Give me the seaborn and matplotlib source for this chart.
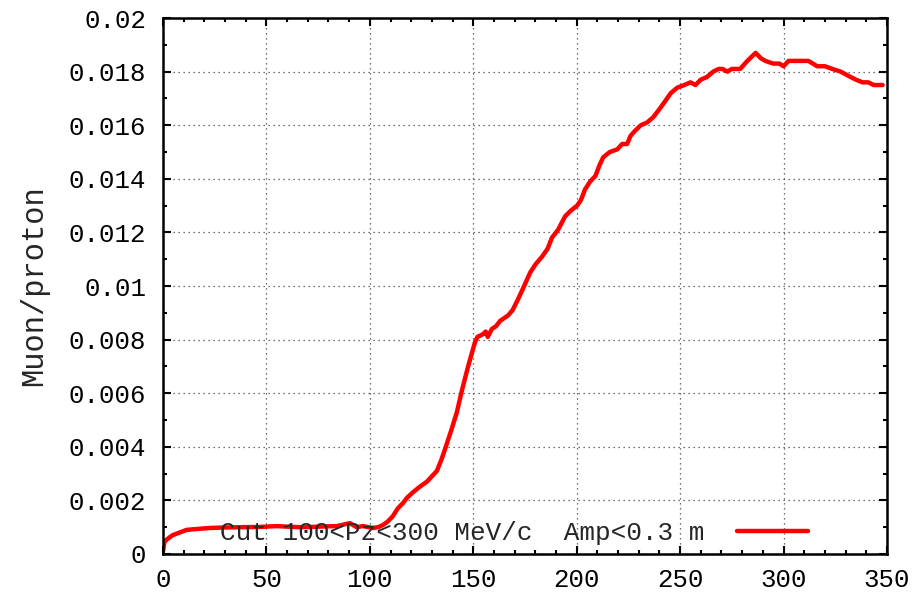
import numpy as np
import pandas as pd
import seaborn as sns
import matplotlib.pyplot as plt
from matplotlib.ticker import MultipleLocator, FormatStrFormatter

# curve
pz = [0, 0.7, 2, 4.6, 8, 11.4, 16, 22.5, 30, 38.5, 47, 55, 60, 66, 72, 79, 84, 86.4,
      88.5, 90.3, 93.6, 96.6, 101.4, 104, 106.3, 108.5, 111, 113.5, 116, 118, 120.8,
      124, 127.6, 130, 132.4, 134.5, 136.3, 138, 139.7, 142.1, 144.5, 147.5, 150.8,
      152, 154.7, 156, 157, 159, 161, 163, 166.8, 169, 171.6, 174, 177.5, 180, 183.3,
      186, 188, 191, 194.4, 197, 200.2, 202, 204, 206.5, 209, 211, 212.8, 216, 219.6,
      222, 224.4, 226, 228.3, 231, 234, 237, 240, 242.8, 245.5, 248.6, 252, 255,
      257.4, 260, 263, 266, 268.6, 270.5, 272.8, 275, 277, 279, 282.5, 286.5, 289,
      291.2, 295, 298, 300, 302.4, 305, 308, 312, 316.3, 320, 323.6, 327.6, 332.4,
      335, 338.2, 341, 343.6, 346, 347.9]
ratio = [0.0001, 0.00045, 0.00055, 0.0007, 0.0008, 0.0009, 0.00093, 0.00097, 0.00099,
         0.001, 0.00101, 0.00104, 0.00102, 0.001, 0.00101, 0.00103, 0.00104, 0.00108,
         0.00112, 0.00115, 0.001, 0.00104, 0.00097, 0.001, 0.00108, 0.0012, 0.0014,
         0.0017, 0.0019, 0.0021, 0.0023, 0.0025, 0.0027, 0.0029, 0.0031, 0.0035,
         0.0039, 0.0043, 0.0047, 0.0053, 0.0061, 0.007, 0.0079, 0.0081, 0.0082,
         0.0083, 0.0081, 0.0084, 0.0085, 0.0087, 0.0089, 0.0091, 0.0095, 0.0099,
         0.0105, 0.0108, 0.0111, 0.0114, 0.0118, 0.0121, 0.0126, 0.0128, 0.013,
         0.0132, 0.0136, 0.0139, 0.0141, 0.0145, 0.0148, 0.015, 0.0151, 0.0153,
         0.0153, 0.0156, 0.0158, 0.016, 0.0161, 0.0163, 0.0166, 0.0169, 0.0172,
         0.0174, 0.0175, 0.0176, 0.0175, 0.0177, 0.0178, 0.018, 0.0181, 0.0181,
         0.018, 0.0181, 0.0181, 0.0181, 0.0184, 0.0187, 0.0185, 0.0184, 0.0183,
         0.0183, 0.0182, 0.0184, 0.0184, 0.0184, 0.0184, 0.0182, 0.0182, 0.0181,
         0.018, 0.0178, 0.0177, 0.0176, 0.0176, 0.0175, 0.0175, 0.0175]
label = "Cut 100<Pz<300 MeV/c  Amp<0.3 m"
xticks = [0, 50, 100, 150, 200, 250, 300, 350]
yticks = [0, 0.002, 0.004, 0.006, 0.008, 0.01, 0.012, 0.014, 0.016, 0.018, 0.02]

df = pd.DataFrame({"pz": pz, "ratio": ratio})

sns.set_style("ticks")
plt.rcParams['font.family'] = ['Liberation Mono', 'DejaVu Sans Mono']

fig = plt.figure(figsize=(9.22, 5.93), dpi=100)
ax = fig.add_axes([0.1768, 0.0658, 0.7852, 0.9038])
sns.lineplot(x="pz", y="ratio", data=df, ax=ax, color="#ff0000", lw=3.2,
             sort=False, estimator=None, label=label)

ax.set_xlim(0, 350)
ax.set_ylim(0, 0.02)
ax.set_xticks(xticks)
ax.set_yticks(yticks)
ax.set_yticklabels(["%g" % v for v in yticks])
ax.xaxis.set_minor_locator(MultipleLocator(10))
ax.yaxis.set_minor_locator(MultipleLocator(0.001))
ax.tick_params(which="both", direction="in", top=True, right=True, width=1.5,
               color="black", labelsize=18.5, labelcolor="black")
ax.tick_params(which="major", length=6)
ax.tick_params(which="minor", length=3)
ax.tick_params(axis="x", pad=10)
ax.tick_params(axis="y", pad=12)
for s in ax.spines.values():
    s.set_linewidth(1.8)
    s.set_color("black")
ax.grid(True, which="major", color="#444444", lw=0.9, ls=(0, (1, 3)))
ax.set_xlabel("")
ax.set_ylabel("Muon/proton", fontsize=22, labelpad=14)

ax.legend(loc="center right", bbox_to_anchor=(0.891, 0.039), frameon=False,
          markerfirst=False, fontsize=18.7, borderpad=0, borderaxespad=0,
          handlelength=2.75, handletextpad=1.25)

plt.savefig("out.png", dpi=100)
